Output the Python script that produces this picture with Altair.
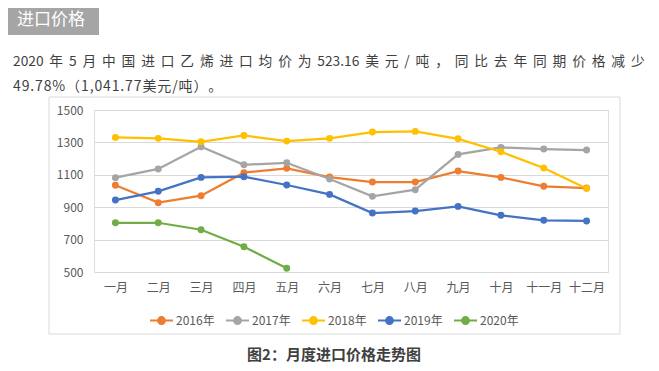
import altair as alt
import pandas as pd

months = ["一月", "二月", "三月", "四月", "五月", "六月", "七月", "八月", "九月", "十月", "十一月", "十二月"]
years = ["2016年", "2017年", "2018年", "2019年", "2020年"]
colors = ["#ED7D31", "#A5A5A5", "#FFC000", "#4472C4", "#70AD47"]

v2016 = [1035, 928, 971, 1113, 1140, 1086, 1055, 1055, 1123, 1084, 1029, 1018]
v2017 = [1082, 1136, 1273, 1162, 1174, 1074, 967, 1008, 1226, 1269, 1259, 1253]
v2018 = [1331, 1325, 1304, 1343, 1308, 1325, 1364, 1368, 1322, 1242, 1142, 1016]
v2019 = [944, 998, 1084, 1088, 1037, 979, 864, 876, 905, 850, 819, 815]
v2020 = [804, 804, 761, 656, 523]

y_ticks = [500, 700, 900, 1100, 1300, 1500]

title_text = "进口价格"
para1_tokens = ["2020", "年", "5", "月", "中", "国", "进", "口", "乙", "烯", "进", "口", "均", "价", "为",
                "523.16", "美", "元", "/", "吨", "，", "同", "比", "去", "年", "同", "期", "价", "格", "减", "少"]
para2 = "49.78%（1,041.77美元/吨）。"
caption = "图2：月度进口价格走势图"

para1 = "\u00a0\u2009".join(para1_tokens)
para2_spaced = "\u200a".join(list(para2))

rows = []
for yr, vals in zip(years, [v2016, v2017, v2018, v2019, v2020]):
    for m, v in zip(months, vals):
        rows.append({"month": m, "year": yr, "value": v})
df = pd.DataFrame(rows)

FONT = "Noto Sans CJK SC"
W, H = 514, 162

x_enc = alt.X("month:N", sort=months, title=None,
              axis=alt.Axis(labelAngle=0, domain=False, ticks=False, grid=False,
                            labelColor="#595959", labelFontSize=12, labelFont=FONT,
                            labelPadding=10))
y_enc = alt.Y("value:Q", title=None,
              scale=alt.Scale(domain=[500, 1500], nice=False, zero=False),
              axis=alt.Axis(values=y_ticks, format="d", domain=False, ticks=False, grid=True,
                            gridColor="#D9D9D9", gridWidth=1, labelColor="#595959",
                            labelFontSize=12, labelFont=FONT, labelPadding=11))
color_enc = alt.Color("year:N", sort=years,
                      scale=alt.Scale(domain=years, range=colors),
                      legend=alt.Legend(title=None, orient="none", legendX=55, legendY=198,
                                        direction="horizontal", columnPadding=7,
                                        symbolType="M-1,0L1,0M-0.3,0A0.3,0.3,0,1,1,0.3,0A0.3,0.3,0,1,1,-0.3,0Z",
                                        symbolSize=529, symbolStrokeWidth=2,
                                        labelFont=FONT, labelFontSize=12, labelColor="#595959",
                                        labelOffset=2))

lines = alt.Chart(df).mark_line(strokeWidth=2.25).encode(x=x_enc, y=y_enc, color=color_enc)
points = alt.Chart(df).mark_point(filled=True, size=48, opacity=1).encode(x=x_enc, y=y_enc, color=color_enc)

one = pd.DataFrame({"a": [0]})
frame = alt.Chart(one).mark_rect(fill=None, stroke="#D9D9D9", strokeWidth=1).encode(
    x=alt.value(-45), x2=alt.value(526), y=alt.value(-13), y2=alt.value(224))
tbox = alt.Chart(one).mark_rect(fill="#A5A5A5").encode(
    x=alt.value(-89), x2=alt.value(5), y=alt.value(-104), y2=alt.value(-75))
ttext = alt.Chart(one).mark_text(text=title_text, color="white", fontSize=17, font=FONT,
                                  align="left", baseline="middle").encode(
    x=alt.value(-77), y=alt.value(-90))
p1 = alt.Chart(one).mark_text(text=para1, color="#3F3F3F", fontSize=13.75, font=FONT,
                               align="left", baseline="middle").encode(
    x=alt.value(-81), y=alt.value(-48))
p2 = alt.Chart(one).mark_text(text=para2_spaced, color="#3F3F3F", fontSize=14, font=FONT,
                               align="left", baseline="middle").encode(
    x=alt.value(-81), y=alt.value(-23))
cap = alt.Chart(one).mark_text(text=caption, color="#404040", fontSize=15, font=FONT,
                                fontWeight="bold", align="center", baseline="middle").encode(
    x=alt.value(240), y=alt.value(245))

chart = alt.layer(frame, tbox, ttext, p1, p2, cap, lines, points).properties(
    width=W, height=H,
    autosize=alt.AutoSizeParams(type="none"),
    padding={"left": 86, "top": 102, "right": 43, "bottom": 91},
).configure_view(stroke=None).configure(background="white")

chart.save("out.html", embed_options={"renderer": "svg", "actions": False})
